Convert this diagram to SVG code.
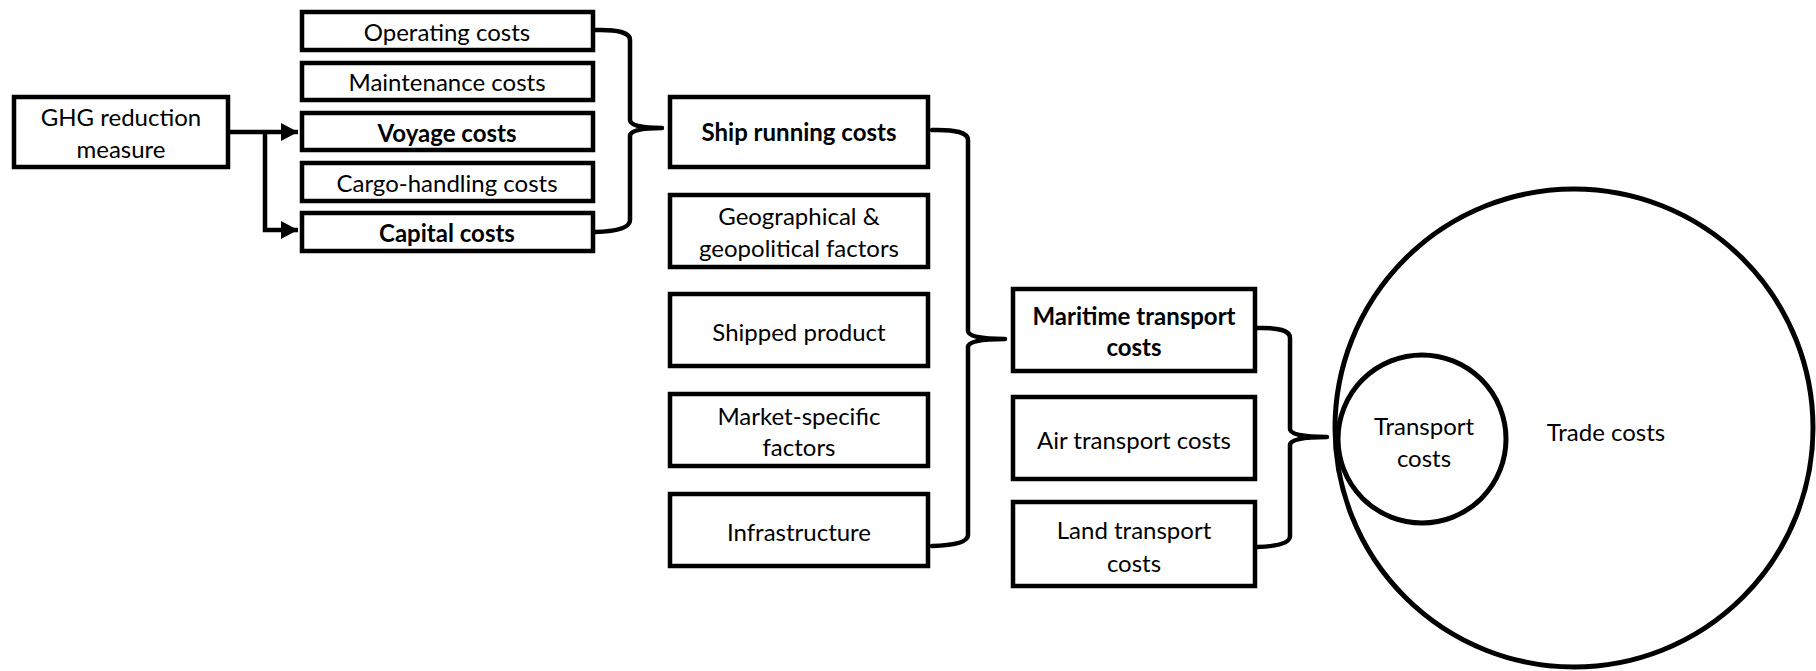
<svg xmlns="http://www.w3.org/2000/svg" width="1816" height="671" viewBox="0 0 1816 671">
  <style>
    .box { fill: #ffffff; stroke: #000000; stroke-width: 4.5; }
    .brace { fill: none; stroke: #000000; stroke-width: 4.5; stroke-linejoin: round; stroke-linecap: round; }
    .link { fill: none; stroke: #000000; stroke-width: 4.5; }
    .ring { fill: none; stroke: #000000; stroke-width: 5; }
    text { font-family: Lato, "Liberation Sans", sans-serif; font-size: 24px; fill: #000000; text-anchor: middle; dominant-baseline: central; }
    .b { font-weight: bold; }
  </style>
  <defs>
    <marker id="arrow" markerUnits="userSpaceOnUse" markerWidth="18" markerHeight="20" viewBox="0 0 18 20" refX="17" refY="10" orient="auto">
      <path d="M0,1 L17,10 L0,19 Z" fill="#000000"/>
    </marker>
  </defs>

  <!-- connectors: arrows and braces -->
  <g id="connectors">
    <path class="link" d="M228,132 L284,132"/>
    <path class="link" d="M265,132 L265,230 L284,230"/>
    <path class="link" d="M282,132 L298,132" marker-end="url(#arrow)" stroke-width="1"/>
    <path class="link" d="M282,230 L298,230" marker-end="url(#arrow)" stroke-width="1"/>
    <path class="brace" d="M595,30 Q630,29 630,40 L630,120 Q630,128 662,128 Q630,128 630,136 L630,220 Q630,231 595,232"/>
    <path class="brace" d="M932,130 Q968,129 968,140 L968,331 Q968,339 1005,339 Q968,339 968,347 L968,535 Q968,545 932,546"/>
    <path class="brace" d="M1257,328 Q1290,327 1290,338 L1290,429 Q1290,437 1327,437 Q1290,437 1290,445 L1290,536 Q1290,546 1257,547"/>
  </g>

  <g id="ghg">
    <rect class="box" x="14" y="97" width="214" height="70"/>
    <text x="121" y="116">GHG reduction</text>
    <text x="121" y="148">measure</text>
  </g>

  <g id="operating">
    <rect class="box" x="302" y="12" width="291" height="38"/>
    <text x="447" y="31">Operating costs</text>
  </g>
  <g id="maintenance">
    <rect class="box" x="302" y="63" width="291" height="37"/>
    <text x="447" y="81">Maintenance costs</text>
  </g>
  <g id="voyage">
    <rect class="box" x="302" y="113" width="291" height="37"/>
    <text class="b" x="447" y="132">Voyage costs</text>
  </g>
  <g id="cargo">
    <rect class="box" x="302" y="163" width="291" height="38"/>
    <text x="447" y="182">Cargo-handling costs</text>
  </g>
  <g id="capital">
    <rect class="box" x="302" y="213" width="291" height="38"/>
    <text class="b" x="447" y="232">Capital costs</text>
  </g>

  <g id="ship-running">
    <rect class="box" x="670" y="97" width="258" height="70"/>
    <text class="b" x="799" y="131">Ship running costs</text>
  </g>
  <g id="geo">
    <rect class="box" x="670" y="195" width="258" height="72"/>
    <text x="799" y="215">Geographical &amp;</text>
    <text x="799" y="247">geopolitical factors</text>
  </g>
  <g id="shipped">
    <rect class="box" x="670" y="294" width="258" height="72"/>
    <text x="799" y="331">Shipped product</text>
  </g>
  <g id="market">
    <rect class="box" x="670" y="394" width="258" height="72"/>
    <text x="799" y="415">Market-specific</text>
    <text x="799" y="446">factors</text>
  </g>
  <g id="infrastructure">
    <rect class="box" x="670" y="494" width="258" height="72"/>
    <text x="799" y="531">Infrastructure</text>
  </g>

  <g id="maritime">
    <rect class="box" x="1013" y="289" width="242" height="82"/>
    <text class="b" x="1134" y="315">Maritime transport</text>
    <text class="b" x="1134" y="346">costs</text>
  </g>
  <g id="air">
    <rect class="box" x="1013" y="397" width="242" height="82"/>
    <text x="1134" y="439">Air transport costs</text>
  </g>
  <g id="land">
    <rect class="box" x="1013" y="502" width="242" height="84"/>
    <text x="1134" y="529">Land transport</text>
    <text x="1134" y="562">costs</text>
  </g>

  <g id="trade-costs">
    <circle class="ring" cx="1574" cy="428" r="239"/>
    <text x="1606" y="431">Trade costs</text>
  </g>
  <g id="transport-costs">
    <circle class="ring" cx="1422" cy="439" r="84"/>
    <text x="1424" y="425">Transport</text>
    <text x="1424" y="457">costs</text>
  </g>
</svg>
